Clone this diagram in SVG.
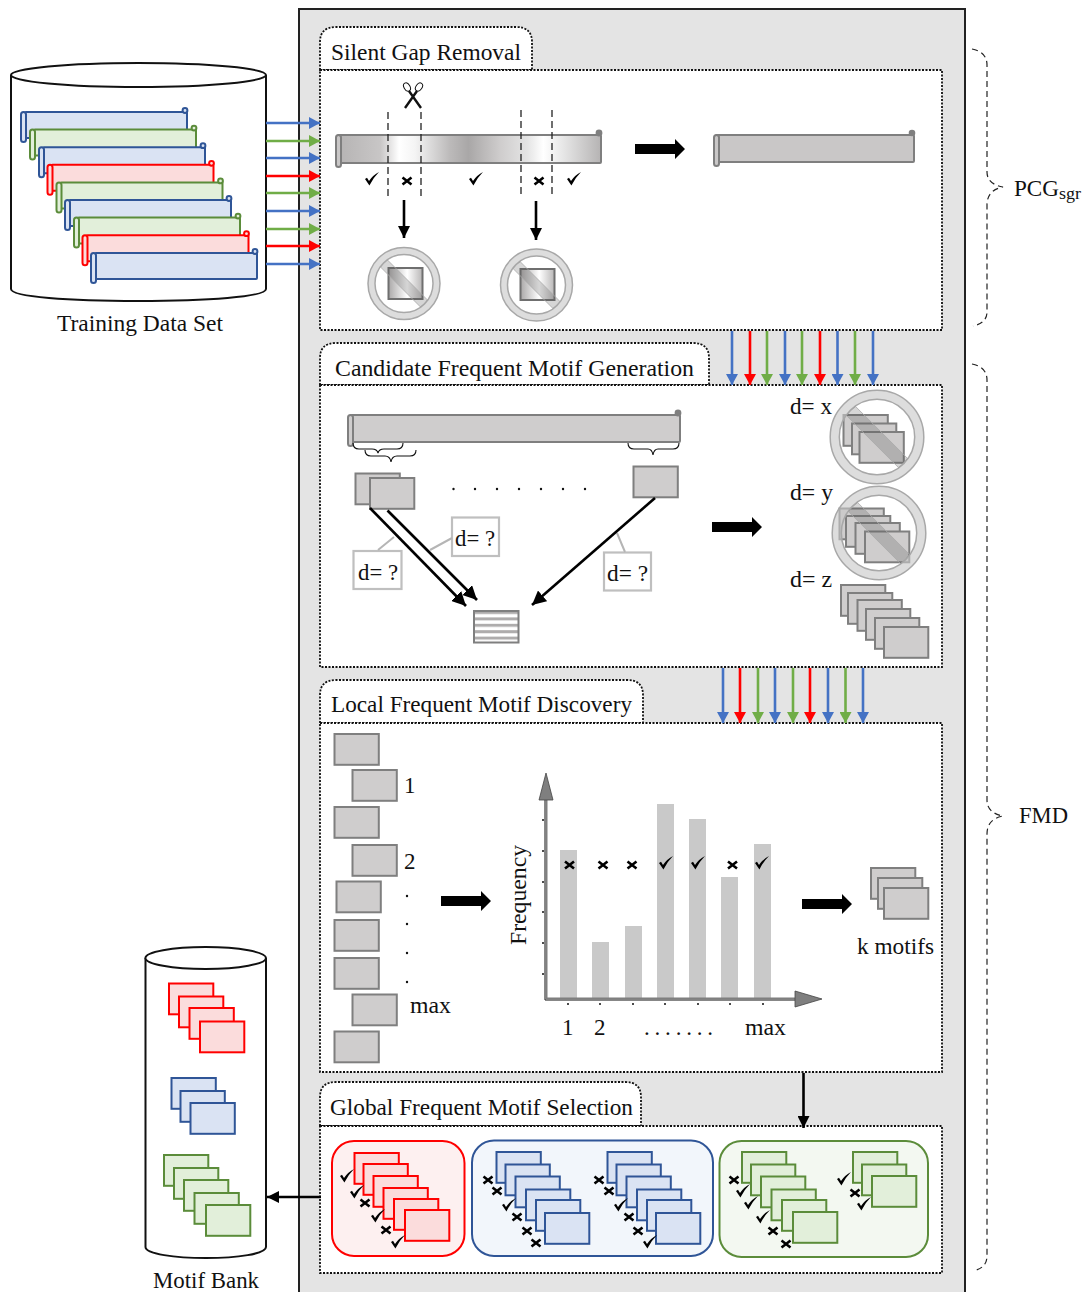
<svg xmlns="http://www.w3.org/2000/svg" width="1086" height="1292" viewBox="0 0 1086 1292">
<style>
text{font-family:"Liberation Serif","Times New Roman",serif;font-size:23px;fill:#111}
.dot{fill:#fff;stroke:#111;stroke-width:1.8;stroke-dasharray:2 1.5}
.blue{fill:#dae3f3;stroke:#2f5597}
.green{fill:#e2efda;stroke:#5b8c3a}
.red{fill:#fbdcdc;stroke:#ff0000}
.gray{fill:#cfcdcd;stroke:#7f7f7f}
.m,.sc{stroke-width:2}
.cyl{fill:#fff;stroke:#111;stroke-width:2}
.lb{stroke:#4472c4}.lg{stroke:#70ad47}.lr{stroke:#ff0000}
.ln path{stroke-width:2.6;fill:none}
.k{stroke:#000;fill:none;stroke-width:2.6}
.dash{stroke:#222;stroke-width:1.3;stroke-dasharray:7 4;fill:none}
.gl{stroke:#b5b5b5;stroke-width:2;fill:none}
.db{fill:#fff;stroke:#bfbfbf;stroke-width:2.2}
.br{fill:none;stroke:#111;stroke-width:1.1}
.brd{fill:none;stroke:#222;stroke-width:1.2;stroke-dasharray:6 4}
.ns{fill:#c8c8c8;fill-opacity:.62;stroke:#a8a8a8;stroke-width:1.5;fill-rule:evenodd}
.nb{fill:#555;fill-opacity:.24;stroke:#a8a8a8;stroke-width:.8}
.bar{fill:#c9c9c9}
</style>
<defs>
<linearGradient id="g1" gradientUnits="userSpaceOnUse" x1="335" y1="0" x2="602" y2="0">
<stop offset="0" stop-color="#b4b2b2"/><stop offset=".17" stop-color="#c8c6c6"/><stop offset=".24" stop-color="#fff"/><stop offset=".3" stop-color="#f4f4f4"/><stop offset=".43" stop-color="#bcbaba"/><stop offset=".5" stop-color="#a9a7a7"/><stop offset=".62" stop-color="#cfcdcd"/><stop offset=".72" stop-color="#e4e4e4"/><stop offset=".78" stop-color="#fff"/><stop offset=".85" stop-color="#e8e8e8"/><stop offset="1" stop-color="#b4b2b2"/>
</linearGradient>
<linearGradient id="g2" x1="0" y1="0" x2="1" y2="0"><stop offset="0" stop-color="#aaa8a8"/><stop offset=".55" stop-color="#fff"/><stop offset="1" stop-color="#b8b6b6"/></linearGradient>
<pattern id="st" patternUnits="userSpaceOnUse" x="474" y="611" width="45" height="6.4"><rect width="45" height="6.4" fill="#fff"/><rect width="45" height="3" fill="#aeacac"/></pattern>
<rect id="m" class="m" width="44.300" height="30.800"/>
<g id="scr" class="sc"><rect x="4" y="0" width="162" height="26" rx="1"/><rect x="0" y="0" width="5" height="30" rx="2.5"/><circle cx="164" cy="-1.5" r="2.4"/></g>
<path id="chk" d="M-7,0 L-5,-1.2 L-3,2 Q1,-4 7,-7 Q1,-1 -2.6,6.4 Z" fill="#000"/>
<path id="crs" d="M-4.5,-3.5 L4.5,3.5 M-4.5,3.5 L4.5,-3.5" stroke="#000" stroke-width="2.6" fill="none"/>
<g id="nosign"><path class="ns" vector-effect="non-scaling-stroke" d="M-36,0 A36,36 0 1 0 36,0 A36,36 0 1 0 -36,0 Z M-29,0 A29,29 0 1 1 29,0 A29,29 0 1 1 -29,0 Z"/><path class="nb" vector-effect="non-scaling-stroke" d="M-16.7,-23.7 L23.7,16.7 L16.7,23.7 L-23.7,-16.7 Z"/></g>
<path id="bigarrow" d="M0,-5 H40 V-10 L50,0 L40,10 V5 H0 Z" fill="#000"/>
<marker id="hb" markerUnits="userSpaceOnUse" markerWidth="12" markerHeight="12" refX="11" refY="6" orient="auto"><path d="M0,0 L11,6 L0,12 Z" fill="#4472c4"/></marker>
<marker id="hg" markerUnits="userSpaceOnUse" markerWidth="12" markerHeight="12" refX="11" refY="6" orient="auto"><path d="M0,0 L11,6 L0,12 Z" fill="#70ad47"/></marker>
<marker id="hr" markerUnits="userSpaceOnUse" markerWidth="12" markerHeight="12" refX="11" refY="6" orient="auto"><path d="M0,0 L11,6 L0,12 Z" fill="#ff0000"/></marker>
<marker id="hk" markerUnits="userSpaceOnUse" markerWidth="13" markerHeight="12" refX="12" refY="6" orient="auto"><path d="M0,0 L12,6 L0,12 Z" fill="#000"/></marker>
<marker id="hk2" markerUnits="userSpaceOnUse" markerWidth="15" markerHeight="14" refX="14" refY="7" orient="auto"><path d="M0,0 L14,7 L0,14 Z" fill="#000"/></marker>
</defs>

<g id="main-panel"><rect x="299" y="9" width="666" height="1284" fill="#e4e4e4" stroke="#222" stroke-width="2"/></g>

<g id="training-data-set">
<path class="cyl" d="M11,75 V289 C11,297 70,301 138,301 C206,301 266,297 266,289 V75"/>
<ellipse class="cyl" cx="138.500" cy="75" rx="127.500" ry="12"/>
<use href="#scr" x="21" y="112" class="blue"/>
<use href="#scr" x="30" y="129.600" class="green"/>
<use href="#scr" x="39" y="147.200" class="blue"/>
<use href="#scr" x="47.500" y="164.800" class="red"/>
<use href="#scr" x="56.500" y="182.400" class="green"/>
<use href="#scr" x="65" y="200" class="blue"/>
<use href="#scr" x="74" y="217.600" class="green"/>
<use href="#scr" x="82.500" y="235.200" class="red"/>
<use href="#scr" x="91" y="253" class="blue"/>
<text x="57" y="331" textLength="166" lengthAdjust="spacingAndGlyphs">Training Data Set</text>
</g>

<g id="silent-gap-removal">
<path class="dot" d="M320,70 V42 Q320,27 336,27 H516 Q532,27 532,42 V70 Z"/>
<rect class="dot" x="320" y="70" width="622" height="260"/>
<text x="331" y="60" textLength="190" lengthAdjust="spacingAndGlyphs">Silent Gap Removal</text>
<g fill="url(#g1)" stroke="#7f7f7f" stroke-width="2"><rect x="338" y="135" width="263" height="28" rx="1"/><rect x="336" y="135" width="5" height="32" rx="2.500" fill="#c9c7c7"/><circle cx="599" cy="133" r="2.400" fill="#7f7f7f"/></g>
<path class="dash" d="M388,112 V198 M421,112 V198 M521,110 V196 M552,110 V196"/>
<g id="scissors" fill="none" stroke="#111"><path d="M405,108 L417,91 M421,108 L409,91" stroke-width="2.400"/><ellipse cx="407" cy="87" rx="3" ry="4.500" transform="rotate(-30 407 87)" stroke-width="1"/><ellipse cx="419" cy="87" rx="3" ry="4.500" transform="rotate(35 419 87)" stroke-width="1"/></g>
<use href="#chk" x="372" y="179"/><use href="#crs" x="407" y="181"/><use href="#chk" x="476" y="179"/><use href="#crs" x="539" y="181"/><use href="#chk" x="574" y="179"/>
<rect x="388.500" y="268" width="34" height="31" fill="url(#g2)" stroke="#6f6f6f" stroke-width="2"/>
<use href="#nosign" x="404" y="283.500"/>
<rect x="520.500" y="269" width="34" height="31" fill="url(#g2)" stroke="#6f6f6f" stroke-width="2"/>
<use href="#nosign" x="536.500" y="285"/>
<use href="#bigarrow" x="635" y="149"/>
<g fill="#c9c7c7" stroke="#7f7f7f" stroke-width="2"><rect x="716" y="135" width="198" height="27" rx="1"/><rect x="714" y="135" width="5" height="31" rx="2.500"/><circle cx="912" cy="133" r="2.300" fill="#7f7f7f"/></g>
</g>

<g id="candidate-generation">
<path class="dot" d="M320,385 V358 Q320,343 336,343 H693 Q709,343 709,358 V385 Z"/>
<rect class="dot" x="320" y="385" width="622" height="282"/>
<text x="335" y="376" textLength="359" lengthAdjust="spacingAndGlyphs">Candidate Frequent Motif Generation</text>
<g fill="#cfcdcd" stroke="#7f7f7f" stroke-width="2"><rect x="351" y="415" width="329" height="27" rx="1"/><rect x="348" y="415" width="5" height="31" rx="2.500"/><circle cx="678" cy="413" r="2.400" fill="#7f7f7f"/></g>
<path class="br" d="M353,443 Q353,449 359,449 H372 Q377,449 378,453 Q379,449 384,449 H397 Q403,449 403,443"/>
<path class="br" d="M365,450 Q365,456 371,456 H385 Q390,456 391,462 Q392,456 397,456 H410 Q416,456 416,450"/>
<path class="br" d="M628,443 Q628,449 634,449 H648 Q652,449 653,455 Q654,449 658,449 H673 Q679,449 679,443"/>
<use href="#m" x="355.500" y="473.500" class="gray"/><use href="#m" x="370" y="478" class="gray"/><use href="#m" x="633.500" y="466.500" class="gray"/>
<g fill="#111"><circle cx="453.500" cy="489" r="1.200"/><circle cx="475" cy="489" r="1.200"/><circle cx="497" cy="489" r="1.200"/><circle cx="519" cy="489" r="1.200"/><circle cx="541" cy="489" r="1.200"/><circle cx="563" cy="489" r="1.200"/><circle cx="585" cy="489" r="1.200"/></g>
<rect class="db" x="353.500" y="551" width="48" height="38"/><text x="358" y="580" textLength="40" lengthAdjust="spacingAndGlyphs">d= ?</text>
<rect class="db" x="452" y="517.500" width="47" height="38.500"/><text x="455" y="546" textLength="40" lengthAdjust="spacingAndGlyphs">d= ?</text>
<rect class="db" x="604" y="552.500" width="47" height="38"/><text x="607" y="581" textLength="41" lengthAdjust="spacingAndGlyphs">d= ?</text>
<rect x="474" y="611" width="44.500" height="31.500" fill="url(#st)" stroke="#7f7f7f" stroke-width="2"/>
<text x="790" y="414" textLength="42" lengthAdjust="spacingAndGlyphs">d= x</text>
<text x="790" y="500" textLength="43" lengthAdjust="spacingAndGlyphs">d= y</text>
<text x="790" y="587" textLength="42" lengthAdjust="spacingAndGlyphs">d= z</text>
<use href="#m" x="843.500" y="415" class="gray"/><use href="#m" x="852" y="423.500" class="gray"/><use href="#m" x="859.500" y="432" class="gray"/>
<use href="#nosign" transform="translate(877 437) scale(1.300)"/>
<use href="#m" x="839.500" y="508.500" class="gray"/><use href="#m" x="846" y="516" class="gray"/><use href="#m" x="855.500" y="523" class="gray"/><use href="#m" x="865" y="531.500" class="gray"/>
<use href="#nosign" transform="translate(879 533) scale(1.300)"/>
<use href="#m" x="841" y="585" class="gray"/><use href="#m" x="848" y="593" class="gray"/><use href="#m" x="857.500" y="600" class="gray"/><use href="#m" x="866" y="609" class="gray"/><use href="#m" x="875" y="618" class="gray"/><use href="#m" x="884" y="627" class="gray"/>
<use href="#bigarrow" x="712" y="527"/>
</g>

<g id="local-discovery">
<path class="dot" d="M320,723 V695 Q320,680 336,680 H627 Q643,680 643,695 V723 Z"/>
<rect class="dot" x="320" y="723" width="622" height="349"/>
<text x="331" y="712" textLength="301" lengthAdjust="spacingAndGlyphs">Local Frequent Motif Discovery</text>
<use href="#m" x="334.500" y="734" class="gray"/><use href="#m" x="352.500" y="770" class="gray"/><use href="#m" x="334.500" y="807" class="gray"/><use href="#m" x="352.500" y="845" class="gray"/><use href="#m" x="336.500" y="881.500" class="gray"/><use href="#m" x="334.500" y="920" class="gray"/><use href="#m" x="334.500" y="958" class="gray"/><use href="#m" x="352.500" y="994.500" class="gray"/><use href="#m" x="334.500" y="1031.500" class="gray"/>
<text x="404" y="793">1</text><text x="404" y="869">2</text><text x="410" y="1013" textLength="41" lengthAdjust="spacingAndGlyphs">max</text>
<g fill="#111"><circle cx="407" cy="896" r="1.200"/><circle cx="407" cy="924" r="1.200"/><circle cx="407" cy="953" r="1.200"/><circle cx="407" cy="982" r="1.200"/></g>
<use href="#bigarrow" x="441" y="901"/>
<g id="chart">
<rect class="bar" x="560" y="850" width="17" height="148"/><rect class="bar" x="592" y="942" width="17" height="56"/><rect class="bar" x="625" y="926" width="17" height="72"/><rect class="bar" x="657" y="804" width="17" height="194"/><rect class="bar" x="689" y="819" width="17" height="179"/><rect class="bar" x="721" y="877" width="17" height="121"/><rect class="bar" x="754" y="844" width="17" height="154"/>
<path d="M545,800 V1000 H795" fill="none" stroke="#111" stroke-width="1"/>
<path d="M546.500,800 V998.500 H795" fill="none" stroke="#7f7f7f" stroke-width="2"/>
<path d="M539,800 L546,773 L553,800 Z" fill="#7f7f7f" stroke="#444" stroke-width=".8"/>
<path d="M795,991 L822,999 L795,1007 Z" fill="#7f7f7f" stroke="#444" stroke-width=".8"/>
<g fill="#111"><circle cx="543" cy="820" r="1"/><circle cx="543" cy="851" r="1"/><circle cx="543" cy="882" r="1"/><circle cx="543" cy="912" r="1"/><circle cx="543" cy="943" r="1"/><circle cx="543" cy="974" r="1"/><circle cx="568" cy="1004" r="1"/><circle cx="600" cy="1004" r="1"/><circle cx="633" cy="1004" r="1"/><circle cx="665" cy="1004" r="1"/><circle cx="698" cy="1004" r="1"/><circle cx="730" cy="1004" r="1"/><circle cx="763" cy="1004" r="1"/></g>
<use href="#crs" x="569.500" y="865"/><use href="#crs" x="603" y="865"/><use href="#crs" x="632" y="865"/><use href="#chk" x="666" y="863"/><use href="#chk" x="698" y="863"/><use href="#crs" x="732.500" y="865"/><use href="#chk" x="762" y="863"/>
<text transform="translate(526 945) rotate(-90)" textLength="100" lengthAdjust="spacingAndGlyphs">Frequency</text>
<text x="562" y="1035">1</text><text x="594" y="1035">2</text>
<text x="644" y="1035" textLength="69">.......</text>
<text x="745" y="1035" textLength="41" lengthAdjust="spacingAndGlyphs">max</text>
</g>
<use href="#bigarrow" x="802" y="904"/>
<use href="#m" x="871" y="868" class="gray"/><use href="#m" x="878" y="878" class="gray"/><use href="#m" x="884" y="888" class="gray"/>
<text x="857" y="954" textLength="77" lengthAdjust="spacingAndGlyphs">k motifs</text>
</g>

<g id="global-selection">
<path class="dot" d="M320,1126 V1097 Q320,1082 336,1082 H625 Q641,1082 641,1097 V1126 Z"/>
<rect class="dot" x="320" y="1126" width="622" height="147"/>
<text x="330" y="1115" textLength="303" lengthAdjust="spacingAndGlyphs">Global Frequent Motif Selection</text>
<rect x="332" y="1141" width="132.500" height="115" rx="22" fill="#fdf0f0" stroke="#ff0000" stroke-width="2"/>
<rect x="472" y="1140.500" width="241" height="115.500" rx="22" fill="#f2f6fb" stroke="#2f5597" stroke-width="2"/>
<rect x="719.500" y="1141" width="208.500" height="116" rx="22" fill="#f3f8f1" stroke="#5b8c3a" stroke-width="2"/>
<use href="#m" x="354.500" y="1153" class="red"/><use href="#m" x="363.500" y="1164" class="red"/><use href="#m" x="373.500" y="1176" class="red"/><use href="#m" x="383.500" y="1188" class="red"/><use href="#m" x="394" y="1199" class="red"/><use href="#m" x="405" y="1210" class="red"/>
<use href="#chk" x="347" y="1176"/><use href="#chk" x="357" y="1192"/><use href="#crs" x="365" y="1203"/><use href="#chk" x="378" y="1216"/><use href="#crs" x="386" y="1230"/><use href="#chk" x="398" y="1242"/>
<use href="#m" x="496.500" y="1152" class="blue"/><use href="#m" x="505.500" y="1164.500" class="blue"/><use href="#m" x="515.500" y="1176.500" class="blue"/><use href="#m" x="526" y="1189.500" class="blue"/><use href="#m" x="536" y="1200" class="blue"/><use href="#m" x="545" y="1213" class="blue"/>
<use href="#crs" x="488" y="1180"/><use href="#crs" x="497" y="1191"/><use href="#chk" x="509" y="1205"/><use href="#crs" x="517" y="1217"/><use href="#crs" x="527" y="1231"/><use href="#crs" x="536" y="1243"/>
<use href="#m" x="607.500" y="1152" class="blue"/><use href="#m" x="616.500" y="1164.500" class="blue"/><use href="#m" x="626.500" y="1176.500" class="blue"/><use href="#m" x="637" y="1189.500" class="blue"/><use href="#m" x="647" y="1200" class="blue"/><use href="#m" x="656" y="1213" class="blue"/>
<use href="#crs" x="599" y="1180"/><use href="#crs" x="609" y="1191"/><use href="#chk" x="621" y="1205"/><use href="#crs" x="629" y="1217"/><use href="#crs" x="638" y="1231"/><use href="#chk" x="650" y="1242"/>
<use href="#m" x="742" y="1152" class="green"/><use href="#m" x="751" y="1164.500" class="green"/><use href="#m" x="761" y="1176.500" class="green"/><use href="#m" x="771.500" y="1189.500" class="green"/><use href="#m" x="782" y="1200" class="green"/><use href="#m" x="793" y="1212" class="green"/>
<use href="#crs" x="734" y="1180"/><use href="#chk" x="743" y="1191"/><use href="#chk" x="751" y="1203"/><use href="#chk" x="763" y="1217"/><use href="#crs" x="773" y="1231"/><use href="#crs" x="786" y="1244"/>
<use href="#m" x="853" y="1152" class="green"/><use href="#m" x="862" y="1164.500" class="green"/><use href="#m" x="872" y="1176" class="green"/>
<use href="#chk" x="844" y="1179"/><use href="#crs" x="855" y="1193"/><use href="#chk" x="864" y="1204"/>
</g>

<g id="motif-bank">
<path class="cyl" d="M145.500,958 V1247 C145.500,1254 175,1258 206,1258 C237,1258 266,1254 266,1247 V958"/>
<ellipse class="cyl" cx="205.700" cy="958" rx="60.300" ry="11"/>
<use href="#m" x="169" y="983.500" class="red"/><use href="#m" x="179" y="996.500" class="red"/><use href="#m" x="189.500" y="1008" class="red"/><use href="#m" x="200" y="1021.500" class="red"/>
<use href="#m" x="171.500" y="1078" class="blue"/><use href="#m" x="180.500" y="1091" class="blue"/><use href="#m" x="190.500" y="1103" class="blue"/>
<use href="#m" x="164" y="1155" class="green"/><use href="#m" x="174" y="1168" class="green"/><use href="#m" x="184" y="1180" class="green"/><use href="#m" x="194.500" y="1193" class="green"/><use href="#m" x="206" y="1205" class="green"/>
<text x="153" y="1288" textLength="106" lengthAdjust="spacingAndGlyphs">Motif Bank</text>
</g>

<g id="braces">
<path class="brd" d="M972,49 Q987,52 987,65 V172 Q987,184 1003,187 Q987,190 987,205 V312 Q987,323 973,326"/>
<path class="brd" d="M972,364 Q987,367 987,380 V800 Q987,813 1003,816 Q987,819 987,834 V1256 Q987,1268 973,1271"/>
<text x="1014" y="196" textLength="45" lengthAdjust="spacingAndGlyphs">PCG</text><text x="1059" y="199" style="font-size:16px" textLength="22" lengthAdjust="spacingAndGlyphs">sgr</text>
<text x="1019" y="823" textLength="49" lengthAdjust="spacingAndGlyphs">FMD</text>
</g>

<g id="connectors">
<g class="ln">
<path class="lb" marker-end="url(#hb)" d="M266,123 H320"/>
<path class="lg" marker-end="url(#hg)" d="M266,141 H320"/>
<path class="lb" marker-end="url(#hb)" d="M266,158 H320"/>
<path class="lr" marker-end="url(#hr)" d="M266,176 H320"/>
<path class="lg" marker-end="url(#hg)" d="M266,193 H320"/>
<path class="lb" marker-end="url(#hb)" d="M266,211 H320"/>
<path class="lg" marker-end="url(#hg)" d="M266,229 H320"/>
<path class="lr" marker-end="url(#hr)" d="M266,246 H320"/>
<path class="lb" marker-end="url(#hb)" d="M266,264 H320"/>
<path class="lb" marker-end="url(#hb)" d="M732,331 V385"/>
<path class="lr" marker-end="url(#hr)" d="M750,331 V385"/>
<path class="lg" marker-end="url(#hg)" d="M767,331 V385"/>
<path class="lb" marker-end="url(#hb)" d="M785,331 V385"/>
<path class="lg" marker-end="url(#hg)" d="M802,331 V385"/>
<path class="lr" marker-end="url(#hr)" d="M820,331 V385"/>
<path class="lb" marker-end="url(#hb)" d="M837.500,331 V385"/>
<path class="lg" marker-end="url(#hg)" d="M855,331 V385"/>
<path class="lb" marker-end="url(#hb)" d="M873,331 V385"/>
<path class="lb" marker-end="url(#hb)" d="M723,668 V723"/>
<path class="lr" marker-end="url(#hr)" d="M740,668 V723"/>
<path class="lg" marker-end="url(#hg)" d="M758,668 V723"/>
<path class="lb" marker-end="url(#hb)" d="M775,668 V723"/>
<path class="lg" marker-end="url(#hg)" d="M793,668 V723"/>
<path class="lr" marker-end="url(#hr)" d="M810,668 V723"/>
<path class="lb" marker-end="url(#hb)" d="M828,668 V723"/>
<path class="lg" marker-end="url(#hg)" d="M845.500,668 V723"/>
<path class="lb" marker-end="url(#hb)" d="M863,668 V723"/>
</g>
<path class="gl" d="M378,550 L394,537 M430,550 L452,538 M617,533 L625,552"/>
<path class="k" marker-end="url(#hk2)" d="M370,508 L466,606"/>
<path class="k" marker-end="url(#hk2)" d="M387.500,510.500 L477,600"/>
<path class="k" marker-end="url(#hk2)" d="M655,498 L532,605"/>
<path class="k" marker-end="url(#hk)" d="M404,200 V238"/>
<path class="k" marker-end="url(#hk)" d="M536,201 V240"/>
<path class="k" marker-end="url(#hk)" d="M803.500,1073 V1128"/>
<path class="k" marker-end="url(#hk)" d="M321,1197 H267"/>
</g>
</svg>
